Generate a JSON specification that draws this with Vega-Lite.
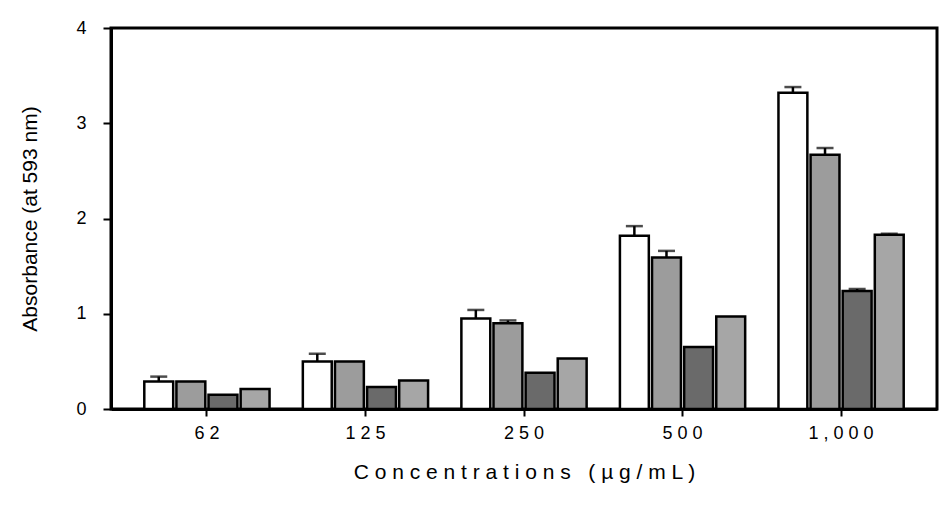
{
  "$schema": "https://vega.github.io/schema/vega-lite/v6.json",
  "width": 826,
  "height": 381,
  "autosize": {"type": "none"},
  "padding": {"left": 111, "top": 28, "right": 11, "bottom": 97},
  "background": "white",
  "config": {
    "view": {"stroke": "black", "strokeWidth": 3},
    "font": "Liberation Sans"
  },
  "data": {
    "values": [
      {"conc": "62", "series": "A", "value": 0.29, "hi": 0.34},
      {"conc": "62", "series": "B", "value": 0.29, "hi": null},
      {"conc": "62", "series": "C", "value": 0.15, "hi": null},
      {"conc": "62", "series": "D", "value": 0.21, "hi": null},
      {"conc": "125", "series": "A", "value": 0.50, "hi": 0.58},
      {"conc": "125", "series": "B", "value": 0.50, "hi": null},
      {"conc": "125", "series": "C", "value": 0.23, "hi": null},
      {"conc": "125", "series": "D", "value": 0.30, "hi": null},
      {"conc": "250", "series": "A", "value": 0.95, "hi": 1.04},
      {"conc": "250", "series": "B", "value": 0.90, "hi": 0.93},
      {"conc": "250", "series": "C", "value": 0.38, "hi": null},
      {"conc": "250", "series": "D", "value": 0.53, "hi": null},
      {"conc": "500", "series": "A", "value": 1.82, "hi": 1.92},
      {"conc": "500", "series": "B", "value": 1.59, "hi": 1.66},
      {"conc": "500", "series": "C", "value": 0.65, "hi": null},
      {"conc": "500", "series": "D", "value": 0.97, "hi": null},
      {"conc": "1,000", "series": "A", "value": 3.32, "hi": 3.38},
      {"conc": "1,000", "series": "B", "value": 2.67, "hi": 2.74},
      {"conc": "1,000", "series": "C", "value": 1.24, "hi": 1.26},
      {"conc": "1,000", "series": "D", "value": 1.83, "hi": 1.84}
    ]
  },
  "encoding": {
    "x": {
      "field": "conc",
      "type": "nominal",
      "sort": ["62", "125", "250", "500", "1,000"],
      "scale": {"paddingInner": 0.21, "paddingOuter": 0.21},
      "axis": {
        "title": "C o n c e n t r a t i o n s \u00a0 ( µ g / m L )",
        "labelAngle": 0,
        "labelExpr": "join(split(datum.label, ''), ' ')",
        "tickSize": 7,
        "tickWidth": 2,
        "tickColor": "black",
        "domainColor": "black",
        "domainWidth": 3,
        "labelFontSize": 18,
        "labelPadding": 8,
        "labelColor": "black",
        "titleFontSize": 21,
        "titleFontWeight": "normal",
        "titleColor": "black",
        "titleBaseline": "middle",
        "titleY": 63
      }
    },
    "xOffset": {
      "field": "series",
      "type": "nominal",
      "sort": ["A", "B", "C", "D"],
      "scale": {"paddingInner": 0.1}
    }
  },
  "layer": [
    {
      "mark": {"type": "bar", "stroke": "black", "strokeWidth": 2.5},
      "encoding": {
        "y": {
          "field": "value",
          "type": "quantitative",
          "scale": {"domain": [0, 4]},
          "axis": {
            "title": "Absorbance (at 593 nm)",
            "values": [0, 1, 2, 3, 4],
            "format": "d",
            "grid": false,
            "tickSize": 8,
            "tickWidth": 2,
            "tickColor": "black",
            "domainColor": "black",
            "domainWidth": 3,
            "labelFontSize": 18,
            "labelPadding": 17,
            "labelColor": "black",
            "titleFontSize": 21,
            "titleFontWeight": "normal",
            "titleColor": "black",
            "titleX": -71
          }
        },
        "fill": {
          "field": "series",
          "type": "nominal",
          "scale": {"domain": ["A", "B", "C", "D"], "range": ["#ffffff", "#9c9c9c", "#6a6a6a", "#a6a6a6"]},
          "legend": null
        }
      }
    },
    {
      "transform": [{"filter": "datum.hi != null"}],
      "mark": {"type": "rule", "strokeWidth": 2.5, "color": "black"},
      "encoding": {
        "y": {"field": "value", "type": "quantitative"},
        "y2": {"field": "hi"}
      }
    },
    {
      "transform": [{"filter": "datum.hi != null"}],
      "mark": {"type": "tick", "size": 17, "thickness": 2.5, "color": "black"},
      "encoding": {
        "y": {"field": "hi", "type": "quantitative"}
      }
    }
  ]
}
